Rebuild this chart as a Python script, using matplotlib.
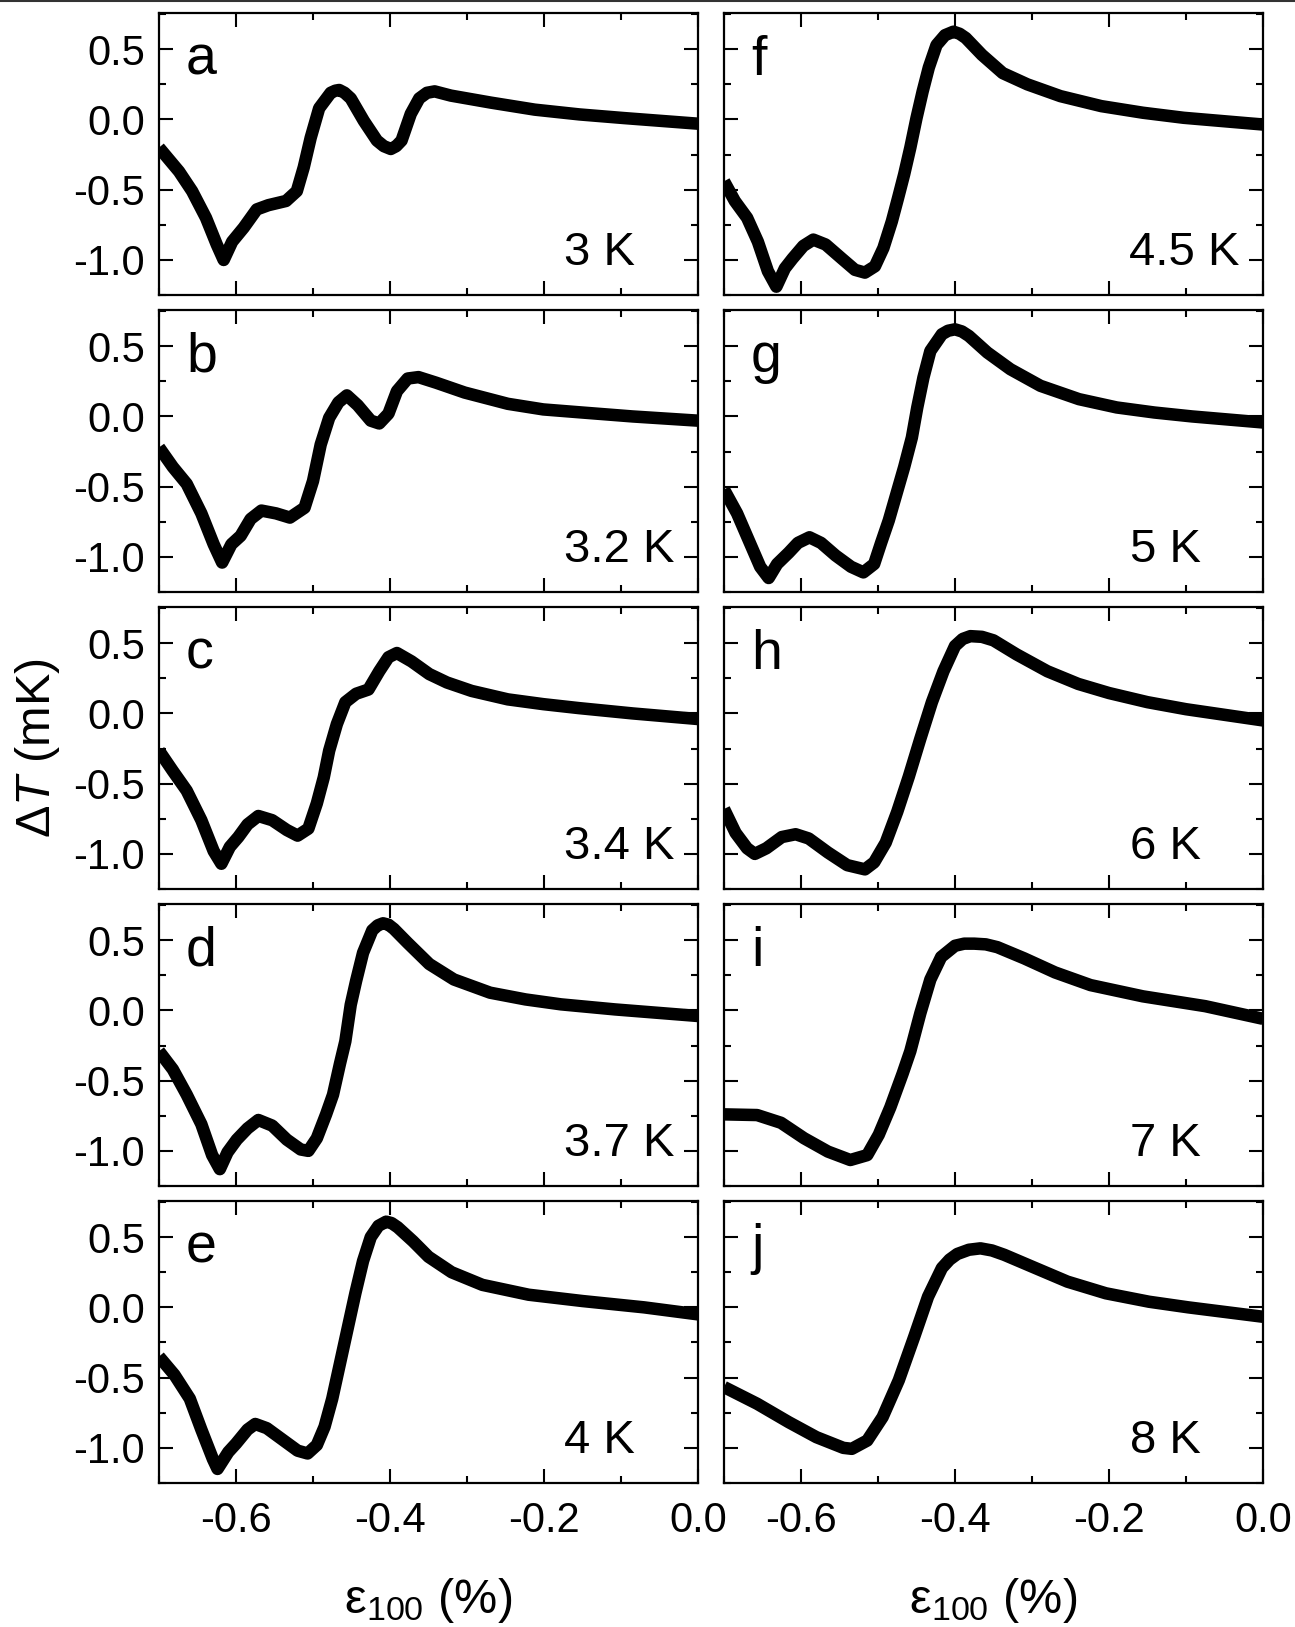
import numpy as np
import matplotlib
matplotlib.use("Agg")
import matplotlib.pyplot as plt
from matplotlib.ticker import MultipleLocator, FormatStrFormatter
from matplotlib.lines import Line2D

plt.rcParams["font.family"] = ["Liberation Sans", "DejaVu Sans"]
plt.rcParams["mathtext.fontset"] = "custom"
plt.rcParams["mathtext.rm"] = "Liberation Sans"
plt.rcParams["mathtext.it"] = "Liberation Sans:italic"
plt.rcParams["axes.unicode_minus"] = False

# --- values (strain in %, dT in mK) ---
a_x = [-0.700, -0.674, -0.657, -0.639, -0.625, -0.616, -0.605, -0.590, -0.573, -0.558, -0.535,
       -0.521, -0.512, -0.503, -0.492, -0.477, -0.471, -0.466, -0.459, -0.451, -0.434, -0.417,
       -0.408, -0.399, -0.392, -0.385, -0.373, -0.362, -0.352, -0.342, -0.321, -0.269, -0.212,
       -0.154, -0.096, 0.0]
a_y = [-0.20, -0.37, -0.51, -0.70, -0.89, -1.00, -0.87, -0.77, -0.64, -0.61, -0.58,
       -0.51, -0.34, -0.13, 0.08, 0.19, 0.205, 0.21, 0.19, 0.15, -0.01, -0.15,
       -0.19, -0.21, -0.19, -0.15, 0.04, 0.15, 0.19, 0.20, 0.17, 0.12, 0.07,
       0.036, 0.01, -0.03]

b_x = [-0.700, -0.682, -0.664, -0.645, -0.629, -0.618, -0.606, -0.594, -0.581, -0.567, -0.548,
       -0.530, -0.511, -0.500, -0.490, -0.479, -0.467, -0.456, -0.442, -0.425, -0.414, -0.402,
       -0.391, -0.377, -0.363, -0.340, -0.303, -0.247, -0.201, -0.155, -0.085, 0.0]
b_y = [-0.22, -0.36, -0.48, -0.69, -0.91, -1.04, -0.91, -0.85, -0.73, -0.67, -0.69,
       -0.72, -0.65, -0.46, -0.20, -0.01, 0.10, 0.15, 0.08, -0.03, -0.05, 0.02,
       0.18, 0.27, 0.28, 0.24, 0.17, 0.09, 0.05, 0.03, 0.0, -0.03]

c_x = [-0.700, -0.682, -0.664, -0.645, -0.629, -0.619, -0.608, -0.597, -0.585, -0.571, -0.553,
       -0.534, -0.520, -0.506, -0.495, -0.486, -0.479, -0.469, -0.458, -0.444, -0.428, -0.414,
       -0.402, -0.391, -0.372, -0.349, -0.326, -0.294, -0.247, -0.201, -0.155, -0.085, 0.0]
c_y = [-0.265, -0.41, -0.55, -0.76, -0.98, -1.07, -0.95, -0.88, -0.79, -0.73, -0.76,
       -0.83, -0.87, -0.82, -0.64, -0.455, -0.265, -0.076, 0.08, 0.14, 0.17, 0.30,
       0.40, 0.43, 0.37, 0.28, 0.22, 0.16, 0.10, 0.066, 0.038, 0.0, -0.04]

d_x = [-0.700, -0.682, -0.664, -0.645, -0.631, -0.621, -0.611, -0.599, -0.585, -0.571, -0.553,
       -0.534, -0.516, -0.506, -0.495, -0.483, -0.474, -0.465, -0.458, -0.451, -0.444, -0.435,
       -0.423, -0.416, -0.409, -0.402, -0.395, -0.377, -0.349, -0.317, -0.270, -0.224, -0.178,
       -0.108, 0.0]
d_y = [-0.29, -0.42, -0.60, -0.81, -1.03, -1.13, -1.01, -0.92, -0.84, -0.78, -0.82,
       -0.92, -0.99, -1.00, -0.91, -0.74, -0.60, -0.38, -0.22, 0.04, 0.21, 0.41,
       0.57, 0.605, 0.62, 0.61, 0.58, 0.48, 0.33, 0.22, 0.126, 0.078, 0.043,
       0.007, -0.04]

e_x = [-0.700, -0.680, -0.660, -0.645, -0.630, -0.624, -0.610, -0.600, -0.585, -0.575, -0.560,
       -0.540, -0.520, -0.507, -0.495, -0.485, -0.475, -0.465, -0.455, -0.445, -0.435, -0.425,
       -0.415, -0.405, -0.398, -0.390, -0.370, -0.350, -0.320, -0.280, -0.220, -0.150, -0.070, 0.0]
e_y = [-0.35, -0.48, -0.65, -0.87, -1.08, -1.15, -1.03, -0.97, -0.87, -0.83, -0.86,
       -0.94, -1.02, -1.04, -0.98, -0.85, -0.65, -0.40, -0.15, 0.10, 0.33, 0.50,
       0.58, 0.61, 0.60, 0.57, 0.47, 0.36, 0.25, 0.16, 0.09, 0.045, 0.0, -0.05]

f_x = [-0.700, -0.686, -0.670, -0.656, -0.643, -0.632, -0.621, -0.611, -0.597, -0.584, -0.568,
       -0.547, -0.530, -0.517, -0.504, -0.493, -0.482, -0.474, -0.466, -0.458, -0.450, -0.442,
       -0.434, -0.424, -0.413, -0.402, -0.394, -0.386, -0.365, -0.338, -0.306, -0.263, -0.210,
       -0.156, -0.103, 0.0]
f_y = [-0.44, -0.58, -0.70, -0.87, -1.08, -1.19, -1.06, -0.99, -0.90, -0.855, -0.89,
       -0.99, -1.07, -1.09, -1.045, -0.915, -0.725, -0.56, -0.39, -0.20, 0.01, 0.20,
       0.37, 0.53, 0.60, 0.625, 0.61, 0.58, 0.46, 0.33, 0.25, 0.166, 0.095,
       0.048, 0.012, -0.036]

g_x = [-0.700, -0.683, -0.668, -0.653, -0.642, -0.631, -0.616, -0.604, -0.589, -0.574, -0.555,
       -0.535, -0.519, -0.505, -0.496, -0.486, -0.476, -0.466, -0.456, -0.449, -0.441, -0.432,
       -0.417, -0.409, -0.400, -0.391, -0.382, -0.358, -0.328, -0.289, -0.239, -0.190, -0.141,
       -0.092, 0.0]
g_y = [-0.52, -0.69, -0.88, -1.07, -1.15, -1.05, -0.97, -0.90, -0.86, -0.90, -0.99,
       -1.07, -1.11, -1.05, -0.90, -0.74, -0.55, -0.36, -0.15, 0.064, 0.277, 0.466,
       0.585, 0.61, 0.62, 0.605, 0.573, 0.455, 0.336, 0.218, 0.123, 0.064, 0.028,
       0.0, -0.043]

h_x = [-0.700, -0.685, -0.670, -0.660, -0.645, -0.625, -0.607, -0.590, -0.565, -0.540, -0.517,
       -0.505, -0.490, -0.475, -0.460, -0.445, -0.430, -0.415, -0.400, -0.390, -0.380, -0.365,
       -0.350, -0.320, -0.280, -0.240, -0.200, -0.150, -0.100, -0.050, 0.0]
h_y = [-0.68, -0.85, -0.96, -1.00, -0.96, -0.88, -0.86, -0.89, -0.99, -1.08, -1.11,
       -1.06, -0.92, -0.70, -0.45, -0.18, 0.08, 0.30, 0.48, 0.53, 0.55, 0.545,
       0.52, 0.42, 0.30, 0.21, 0.145, 0.08, 0.03, -0.01, -0.05]

i_x = [-0.700, -0.657, -0.626, -0.596, -0.565, -0.536, -0.514, -0.499, -0.484, -0.468, -0.458,
       -0.445, -0.432, -0.418, -0.400, -0.388, -0.375, -0.360, -0.345, -0.310, -0.270, -0.224,
       -0.156, -0.075, 0.0]
i_y = [-0.74, -0.745, -0.80, -0.91, -1.005, -1.065, -1.03, -0.885, -0.69, -0.45, -0.29,
       -0.02, 0.22, 0.38, 0.46, 0.475, 0.475, 0.47, 0.45, 0.37, 0.27, 0.18,
       0.10, 0.03, -0.06]

j_x = [-0.700, -0.657, -0.616, -0.580, -0.545, -0.534, -0.514, -0.494, -0.473, -0.453, -0.435,
       -0.417, -0.407, -0.397, -0.382, -0.367, -0.352, -0.336, -0.300, -0.254, -0.204, -0.148,
       -0.097, 0.0]
j_y = [-0.567, -0.686, -0.817, -0.924, -1.0, -1.007, -0.948, -0.781, -0.519, -0.21, 0.076,
       0.28, 0.34, 0.38, 0.41, 0.42, 0.405, 0.374, 0.29, 0.183, 0.10, 0.04,
       0.0, -0.067]

letters = ["a", "b", "c", "d", "e", "f", "g", "h", "i", "j"]
temps = ["3 K", "3.2 K", "3.4 K", "3.7 K", "4 K", "4.5 K", "5 K", "6 K", "7 K", "8 K"]
xs = [a_x, b_x, c_x, d_x, e_x, f_x, g_x, h_x, i_x, j_x]
ys = [a_y, b_y, c_y, d_y, e_y, f_y, g_y, h_y, i_y, j_y]

# right edge of the temperature label, in axes fraction
temp_right = [0.883, 0.957, 0.957, 0.957, 0.883, 0.957, 0.885, 0.885, 0.885, 0.885]

W, H = 1295, 1627
fig = plt.figure(figsize=(W / 100, H / 100), dpi=100)

col_left = [159 / W, 724 / W]
ax_w = 539 / W
ax_h = 282.4 / H
pitch = 296.97 / H
top = 1 - 12.7 / H

for k in range(10):
    col, row = divmod(k, 5)
    ax = fig.add_axes([col_left[col], top - ax_h - row * pitch, ax_w, ax_h])
    ax.plot(xs[k], ys[k], color="k", lw=9, solid_joinstyle="round", solid_capstyle="butt")
    ax.set_xlim(-0.7, 0.0)
    ax.set_ylim(-1.25, 0.76)
    ax.xaxis.set_major_locator(MultipleLocator(0.2))
    ax.xaxis.set_minor_locator(MultipleLocator(0.1))
    ax.yaxis.set_major_locator(MultipleLocator(0.5))
    ax.yaxis.set_minor_locator(MultipleLocator(0.25))
    ax.xaxis.set_major_formatter(FormatStrFormatter("%.1f"))
    ax.yaxis.set_major_formatter(FormatStrFormatter("%.1f"))
    ax.tick_params(which="both", direction="in", top=True, right=True, width=1.5)
    ax.tick_params(which="major", length=10, labelsize=30)
    ax.tick_params(which="minor", length=5)
    ax.tick_params(axis="x", pad=13)
    ax.tick_params(axis="y", pad=10)
    for s in ax.spines.values():
        s.set_linewidth(1.6)
    if col == 1:
        ax.tick_params(labelleft=False)
    if row < 4:
        ax.tick_params(labelbottom=False)
    ax.text(0.05, 0.78, letters[k], transform=ax.transAxes, fontsize=40, va="baseline", ha="left")
    ax.text(temp_right[k], 0.105, temps[k], transform=ax.transAxes, fontsize=34,
            va="baseline", ha="right")

# axis titles
fig.text(38 / W, 1 - 748 / H, r"$\mathrm{\Delta}\mathit{T}$ (mK)", rotation=90,
         fontsize=35, ha="center", va="center")
for col in range(2):
    fig.text(col_left[col] + ax_w / 2, 1 - 1613 / H, r"$\mathrm{ε}_{100}$ (%)",
             fontsize=35, ha="center", va="baseline")

# thin rule along the top edge
fig.add_artist(Line2D([0, 1], [1 - 1 / H, 1 - 1 / H], color="#333333", lw=1.5))

fig.savefig("out.png", dpi=100)
